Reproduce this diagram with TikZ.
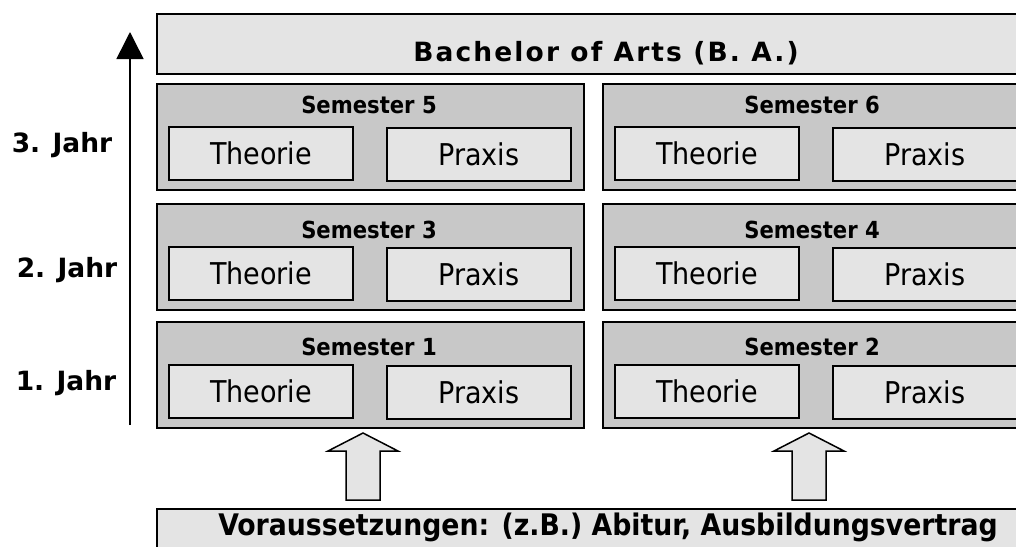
\documentclass[tikz,border=0pt]{standalone}
\usepackage{fontspec}
\setmainfont{DejaVu Sans}
\newfontfamily\dvc{DejaVu Sans Condensed}
\usetikzlibrary{arrows.meta}
\definecolor{lightg}{HTML}{E4E4E4}
\definecolor{midg}{HTML}{C8C8C8}
\begin{document}
\begin{tikzpicture}[x=1pt,y=-1pt,
  outerbox/.style={draw, line width=2pt, fill=midg, inner sep=0pt, minimum width=427pt, minimum height=106pt, anchor=north west},
  innerbox/.style={draw, line width=2pt, fill=lightg, inner sep=0pt, minimum width=184pt, minimum height=53pt, anchor=north west, font=\dvc\fontsize{30}{30}\selectfont},
  wideBox/.style={draw, line width=2pt, fill=lightg, inner sep=0pt, minimum width=900pt, minimum height=60pt, anchor=north west},
  semtitle/.style={anchor=base, inner sep=0pt, font=\dvc\bfseries\fontsize{23.5}{24}\selectfont},
  yeartitle/.style={anchor=base, inner sep=0pt, font=\bfseries\fontsize{26.5}{27}\selectfont},
  bigtitle/.style={anchor=base, inner sep=0pt, font=\bfseries\fontsize{26.5}{28}\selectfont\addfontfeature{LetterSpace=8}},
  pretitle/.style={anchor=base, inner sep=0pt, font=\dvc\bfseries\fontsize{29.7}{32}\selectfont},
  blockarrow/.style={draw, line width=1.5pt, fill=lightg, line join=miter},
]
\useasboundingbox (0,0) rectangle (1016,546);
\clip (0,0) rectangle (1016,546);
\fill[white] (0,0) rectangle (1016,546);

% Bachelor
\node[wideBox] (ba) at (156,13) {};
\node[bigtitle] (bat) at (606,61) {Bachelor of Arts (B.\ A.)};

% semesters
\foreach \n/\lx/\ty/\tx/\tb in {5/156/83/369/113, 6/602/83/812/113, 3/156/203/369/238, 4/602/203/812/238, 1/156/321/369/355, 2/602/321/812/355} {
  \node[outerbox] (s\n) at (\lx,\ty) {};
  \node[semtitle] (s\n t) at (\tx,\tb) {Semester \n};
  \node[innerbox] (s\n th) at (\lx+12,\ty+43) {Theorie};
  \node[innerbox] (s\n pr) at (\lx+230,\ty+44) {Praxis};
}

% prerequisites
\node[wideBox] (vo) at (156,508) {};
\node[pretitle] (vot) at (608,535) {Voraussetzungen: (z.B.) Abitur, Ausbildungsvertrag};

% block arrows
\draw[blockarrow] (346,500) -- (346,451) -- (328,451) -- (363,433) -- (398,451) -- (380,451) -- (380,500) -- cycle;
\draw[blockarrow] (792,500) -- (792,451) -- (774,451) -- (809,433) -- (844,451) -- (826,451) -- (826,500) -- cycle;

% time axis
\coordinate (axb) at (130,425);
\coordinate (axt) at (130,32);
\draw[line width=1.5pt, -{Triangle[length=27pt,width=27pt]}] (axb) -- (axt);

\node[yeartitle] (j3) at (62,152) {3. Jahr};
\node[yeartitle] (j2) at (67,277) {2. Jahr};
\node[yeartitle] (j1) at (66,390) {1. Jahr};
\end{tikzpicture}
\end{document}
